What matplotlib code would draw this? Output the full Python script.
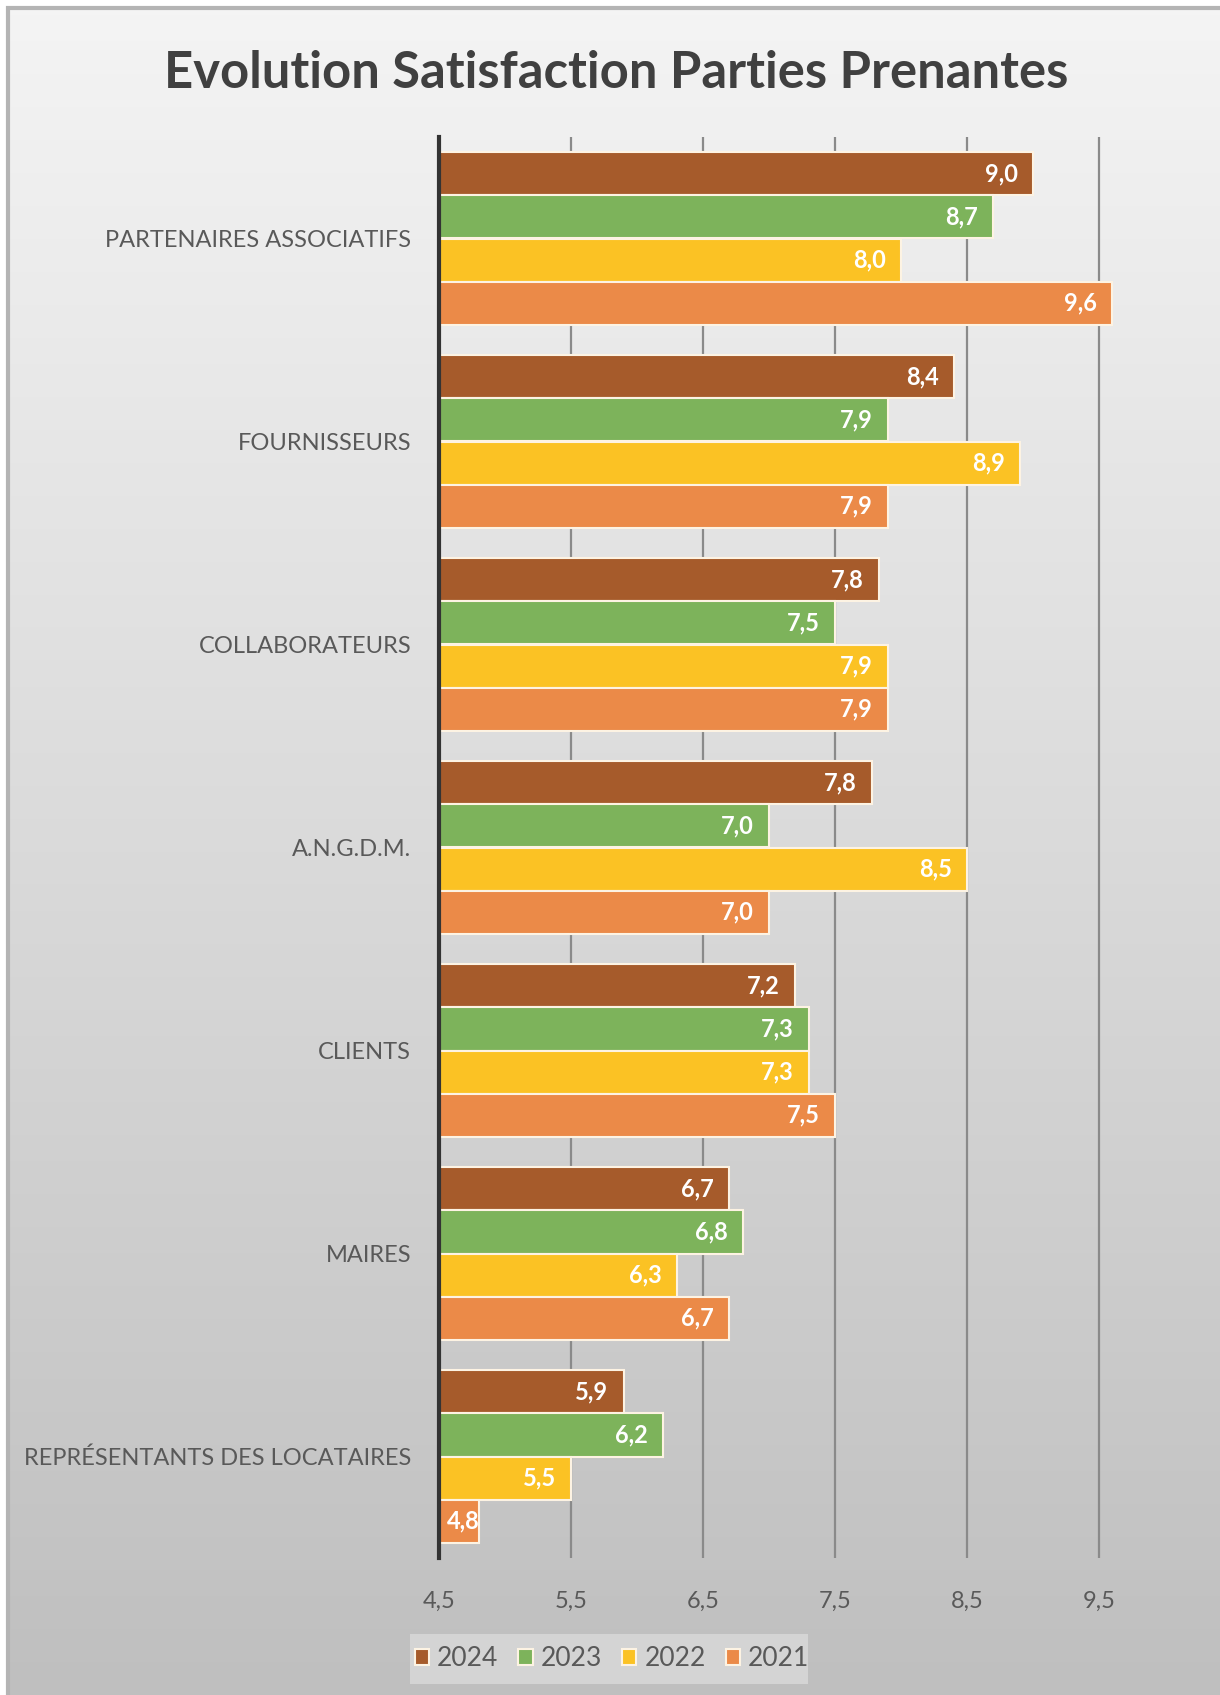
import matplotlib
matplotlib.use("Agg")
import matplotlib.pyplot as plt
import numpy as np
from matplotlib.colors import LinearSegmentedColormap
from matplotlib.patches import Rectangle

plt.rcParams['font.family'] = ['Lato', 'DejaVu Sans']

categories = ['PARTENAIRES ASSOCIATIFS', 'FOURNISSEURS', 'COLLABORATEURS', 'A.N.G.D.M.',
              'CLIENTS', 'MAIRES', 'REPRÉSENTANTS DES LOCATAIRES']
years = ['2024', '2023', '2022', '2021']
v2024 = [9.0, 8.4, 7.83, 7.78, 7.2, 6.7, 5.9]
v2023 = [8.7, 7.9, 7.5, 7.0, 7.3, 6.8, 6.2]
v2022 = [8.0, 8.9, 7.9, 8.5, 7.3, 6.3, 5.5]
v2021 = [9.6, 7.9, 7.9, 7.0, 7.5, 6.7, 4.8]
xticks = [4.5, 5.5, 6.5, 7.5, 8.5, 9.5]

colors = ['#A65B2B', '#7DB35B', '#FBC224', '#EB8A48']
series = [v2024, v2023, v2022, v2021]

W, H = 1220, 1695
fig = plt.figure(figsize=(W / 100, H / 100), dpi=100, facecolor='white')

# gradient background with a thin gray frame
m = 8
bg = fig.add_axes([m / W, 0, 1 - m / W, 1 - m / H], zorder=-10)
cmap = LinearSegmentedColormap.from_list('bg', ['#bfbfbf', '#dadada', '#f4f4f4'])
grad = np.linspace(0, 1, 256).reshape(-1, 1)
bg.imshow(grad, aspect='auto', cmap=cmap, origin='lower', extent=[0, 1, 0, 1])
bg.axis('off')
fig.patches.append(Rectangle((m / W, -0.01), 1, 1 - m / H + 0.01, transform=fig.transFigure,
                             fill=False, edgecolor='#b4b4b4', linewidth=3, zorder=-5))

ax = fig.add_axes([439 / W, 1 - 1558 / H, 726 / W, 1421 / H])
ax.set_facecolor('none')

y = np.arange(len(categories))
h = 0.2125
for j, (vals, col, yr) in enumerate(zip(series, colors, years)):
    pos = y + (j - 1.5) * h
    ax.barh(pos, np.array(vals) - 4.5, left=4.5, height=h, color=col,
            edgecolor='#fdf3e3', linewidth=1.5, label=yr, zorder=3)
    for yy, v in zip(pos, vals):
        lab = f'{v:.1f}'.replace('.', ',')
        if v - 4.5 < 0.45:
            # too short: label starts just right of the axis
            ax.annotate(lab, xy=(4.5, yy), xytext=(6, 0), textcoords='offset points',
                        ha='left', va='center', color='white', fontsize=17,
                        fontweight='bold', zorder=5)
        else:
            ax.annotate(lab, xy=(v, yy), xytext=(-11, 0), textcoords='offset points',
                        ha='right', va='center', color='white', fontsize=17,
                        fontweight='bold', zorder=5)

ax.set_xlim(4.5, 10.0)
ax.set_ylim(len(categories) - 0.5, -0.5)
ax.set_xticks(xticks)
ax.set_xticklabels([f'{t:.1f}'.replace('.', ',') for t in xticks])
ax.set_yticks(y)
ax.set_yticklabels(categories)
ax.tick_params(axis='x', length=0, pad=24, labelsize=17, labelcolor='#595959')
ax.tick_params(axis='y', length=0, pad=20, labelsize=17, labelcolor='#595959')
for t in xticks[1:]:
    ax.axvline(t, color='#8a8a8a', linewidth=1.6, zorder=1)
for s in ['top', 'right', 'bottom']:
    ax.spines[s].set_visible(False)
ax.spines['left'].set_color('#333333')
ax.spines['left'].set_linewidth(3)
ax.spines['left'].set_zorder(6)

fig.text(616 / W, 1 - 73 / H, 'Evolution Satisfaction Parties Prenantes', ha='center', va='center',
         fontsize=36.5, fontweight='bold', color='#404040')

# legend background box
fig.patches.append(Rectangle((410 / W, 1 - 1684 / H), 398 / W, 50 / H, transform=fig.transFigure,
                             facecolor='#d4d4d4', edgecolor='none', zorder=1))
leg = fig.legend(loc='center', bbox_to_anchor=(612 / W, 1 - 1659 / H), ncol=4, frameon=False,
                 fontsize=19, handlelength=0.55, handleheight=0.55, handletextpad=0.3,
                 columnspacing=0.75, borderpad=0.3)
leg.set_zorder(2)
for txt in leg.get_texts():
    txt.set_color('#595959')

fig.savefig('out.png', dpi=100)
